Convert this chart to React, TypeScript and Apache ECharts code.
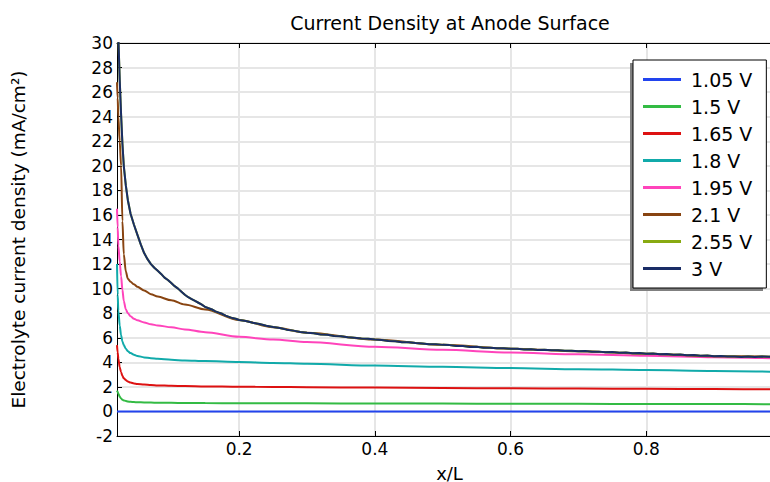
import React, { useEffect, useRef } from "react";
import * as echarts from "echarts";

// ---- Data ----
const seriesNames = ["1.05 V", "1.5 V", "1.65 V", "1.8 V", "1.95 V", "2.1 V", "2.55 V", "3 V"];
const seriesColors = ["#2244ee", "#33bb44", "#dd1111", "#11aaaa", "#ff44bb", "#884411", "#88aa11", "#1a2d66"];

// common x/L sampling for the smooth curves
const xSmooth = [0.02, 0.021, 0.022, 0.024, 0.026, 0.028, 0.03, 0.033, 0.036, 0.04, 0.045, 0.05, 0.06, 0.07, 0.08, 0.1, 0.12, 0.15, 0.2, 0.25, 0.3, 0.4, 0.5, 0.6, 0.7, 0.8, 0.9, 1.0];

const y105 = [0, 0, 0, 0, 0, 0, 0, 0, 0, 0, 0, 0, 0, 0, 0, 0, 0, 0, 0, 0, 0, 0, 0, 0, 0, 0, 0, 0];
const y150 = [1.7, 1.6, 1.45, 1.2, 1.05, 0.95, 0.9, 0.85, 0.81, 0.78, 0.76, 0.75, 0.73, 0.72, 0.71, 0.7, 0.69, 0.68, 0.67, 0.66, 0.66, 0.65, 0.64, 0.63, 0.62, 0.61, 0.6, 0.59];
const y165 = [5.4, 4.8, 4.3, 3.6, 3.2, 2.9, 2.7, 2.55, 2.43, 2.35, 2.28, 2.24, 2.19, 2.15, 2.12, 2.09, 2.07, 2.04, 2.01, 1.99, 1.97, 1.94, 1.91, 1.88, 1.86, 1.84, 1.82, 1.8];
const y180 = [12, 9.5, 8.2, 7.0, 6.2, 5.7, 5.4, 5.1, 4.9, 4.75, 4.62, 4.52, 4.4, 4.33, 4.28, 4.2, 4.15, 4.1, 4.03, 3.95, 3.88, 3.74, 3.63, 3.53, 3.44, 3.37, 3.3, 3.22];
const y195 = [16.5, 15, 13.5, 12.2, 11, 9.9, 9.0, 8.3, 8.0, 7.75, 7.55, 7.42, 7.25, 7.1, 7.0, 6.85, 6.68, 6.45, 6.08, 5.85, 5.65, 5.27, 5.02, 4.8, 4.65, 4.54, 4.42, 4.3];
const y210 = [26.8, 25.5, 24, 22, 20, 15.5, 12.8, 11.4, 10.8, 10.55, 10.35, 10.15, 9.85, 9.55, 9.35, 9.05, 8.7, 8.3, 7.45, 6.85, 6.4, 5.85, 5.42, 5.1, 4.9, 4.7, 4.5, 4.45];

// noisy high-voltage curve (3 V; 2.55 V lies beneath it)
const x300 = [
  0.02, 0.022, 0.024, 0.026, 0.028, 0.03, 0.033, 0.036, 0.04, 0.045, 0.05, 0.055, 0.06, 0.065, 0.07, 0.075, 0.08, 0.085, 0.09, 0.095,
  0.1, 0.105, 0.11, 0.115, 0.12, 0.125, 0.13, 0.135, 0.14, 0.145, 0.15, 0.155, 0.16, 0.165, 0.17, 0.175, 0.18, 0.185, 0.19, 0.195,
  0.2, 0.21, 0.22, 0.23, 0.24, 0.25, 0.26, 0.27, 0.28, 0.29, 0.3, 0.31, 0.32, 0.33, 0.34, 0.35, 0.36, 0.37, 0.38, 0.39,
  0.4, 0.41, 0.42, 0.43, 0.44, 0.45, 0.46, 0.47, 0.48, 0.49, 0.5, 0.51, 0.52, 0.53, 0.54, 0.55, 0.56, 0.57, 0.58, 0.59,
  0.6, 0.61, 0.62, 0.63, 0.64, 0.65, 0.66, 0.67, 0.68, 0.69, 0.7, 0.71, 0.72, 0.73, 0.74, 0.75, 0.76, 0.77, 0.78, 0.79,
  0.8, 0.81, 0.82, 0.83, 0.84, 0.85, 0.86, 0.87, 0.88, 0.89, 0.9, 0.91, 0.92, 0.93, 0.94, 0.95, 0.96, 0.97, 0.98, 0.99, 1.0,
];
const y300 = [
  34, 30.5, 27.0, 24.2, 21.8, 20.0, 18.4, 17.2, 16.1, 15.2, 14.4, 13.6, 12.9, 12.4, 12.0, 11.7, 11.45, 11.2, 10.9, 10.7,
  10.45, 10.2, 10.0, 9.75, 9.5, 9.3, 9.15, 9.0, 8.85, 8.7, 8.5, 8.4, 8.3, 8.15, 8.05, 7.95, 7.8, 7.7, 7.6, 7.55,
  7.45, 7.36, 7.22, 7.12, 6.98, 6.88, 6.8, 6.66, 6.58, 6.47, 6.4, 6.36, 6.27, 6.24, 6.14, 6.12, 6.04, 6.0, 5.94, 5.91,
  5.85, 5.82, 5.74, 5.72, 5.64, 5.64, 5.57, 5.54, 5.48, 5.47, 5.42, 5.4, 5.33, 5.32, 5.25, 5.26, 5.19, 5.19, 5.14, 5.14,
  5.1, 5.11, 5.05, 5.06, 5.01, 5.03, 4.98, 4.99, 4.94, 4.95, 4.91, 4.92, 4.86, 4.87, 4.82, 4.84, 4.78, 4.79, 4.73, 4.75,
  4.7, 4.71, 4.66, 4.67, 4.61, 4.63, 4.57, 4.59, 4.53, 4.55, 4.5, 4.52, 4.47, 4.48, 4.44, 4.47, 4.44, 4.47, 4.45, 4.48, 4.46,
];

const xTickValues = [0.2, 0.4, 0.6, 0.8, 1.0];
const xLabelValues = [0.2, 0.4, 0.6, 0.8];

const seriesX = [xSmooth, xSmooth, xSmooth, xSmooth, xSmooth, xSmooth, x300, x300];
const seriesY = [y105, y150, y165, y180, y195, y210, y300, y300];

const FONT = "DejaVu Sans";

export default function App() {
  const ref = useRef<HTMLDivElement>(null);
  useEffect(() => {
    if (!ref.current) return;
    const chart = echarts.init(ref.current, undefined, { renderer: "svg" });
    const series = seriesNames.map((name, i) => ({
      name,
      type: "line",
      data: seriesX[i].map((x, k) => [x, seriesY[i][k]]),
      symbol: "none",
      showSymbol: false,
      smooth: i < 6 ? 0.3 : false,
      smoothMonotone: "x",
      lineStyle: { color: seriesColors[i], width: 2 },
      itemStyle: { color: seriesColors[i] },
      z: 2 + i,
    }));
    chart.setOption({
      animation: false,
      backgroundColor: "#fff",
      textStyle: { fontFamily: FONT },
      graphic: [
        {
          type: "text",
          x: 450,
          y: 23,
          z: 10,
          style: {
            text: "Current Density at Anode Surface",
            fontFamily: FONT,
            fontSize: 19,
            fill: "#000",
            textAlign: "center",
            textVerticalAlign: "middle",
          },
        },
        {
          type: "rect",
          z: 3,
          shape: { x: 630, y: 63, width: 133, height: 228 },
          style: { fill: "#808080" },
        },
      ],
      legend: {
        data: seriesNames,
        orient: "vertical",
        left: 633,
        top: 60,
        padding: [10, 14, 10, 10],
        icon: "rect",
        itemWidth: 38,
        itemHeight: 3,
        itemGap: 8,
        backgroundColor: "#fff",
        borderColor: "#000",
        borderWidth: 1,
        z: 20,
        textStyle: { fontFamily: FONT, fontSize: 19, lineHeight: 19, color: "#000", padding: [0, 0, 0, 5] },
      },
      grid: { left: 117, top: 43, right: -12, bottom: 46, containLabel: false, outerBoundsMode: "none" },
      xAxis: [
        {
          type: "value",
          min: 0.02,
          max: 1.0,
          position: "bottom",
          name: "x/L",
          nameLocation: "middle",
          nameGap: 28,
          nameTextStyle: { fontFamily: FONT, fontSize: 18, color: "#000" },
          axisLine: { show: true, onZero: false, lineStyle: { color: "#000", width: 1 } },
          axisTick: { show: true, inside: true, length: 5, customValues: xTickValues, lineStyle: { color: "#000" } },
          axisLabel: {
            customValues: xLabelValues,
            margin: 4,
            fontFamily: FONT,
            fontSize: 17,
            color: "#000",
            formatter: (v: number) => v.toFixed(1),
          },
          splitLine: { show: true, lineStyle: { color: "#e6e6e6", width: 2 } },
        },
        {
          type: "value",
          min: 0.02,
          max: 1.0,
          position: "top",
          axisLine: { show: true, onZero: false, lineStyle: { color: "#000", width: 1 } },
          axisTick: { show: true, inside: true, length: 5, customValues: xTickValues, lineStyle: { color: "#000" } },
          axisLabel: { show: false },
          splitLine: { show: false },
        },
      ],
      yAxis: {
        type: "value",
        min: -2,
        max: 30,
        interval: 2,
        name: "Electrolyte current density (mA/cm²)",
        nameLocation: "middle",
        nameGap: 89,
        nameTextStyle: { fontFamily: FONT, fontSize: 18.5, color: "#000" },
        axisLine: { show: true, onZero: false, lineStyle: { color: "#000", width: 1 } },
        axisTick: { show: true, inside: true, length: 5, lineStyle: { color: "#000" } },
        axisLabel: { margin: 4, fontFamily: FONT, fontSize: 17, color: "#000" },
        splitLine: { show: true, lineStyle: { color: "#e6e6e6", width: 2 } },
      },
      series,
    });
    return () => chart.dispose();
  }, []);
  return <div ref={ref} style={{ position: "fixed", left: 0, top: 0, width: 770, height: 482 }} />;
}
